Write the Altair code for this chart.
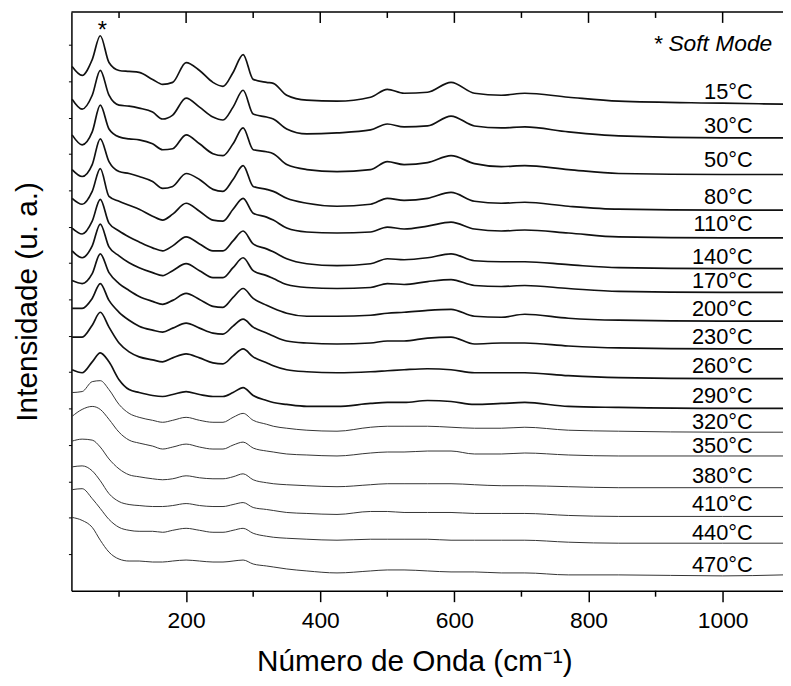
import altair as alt
import pandas as pd

# Raman shift sample positions (cm^-1)
wavenumber = [30, 45, 60, 72, 85, 100, 115, 130, 150, 165, 180, 200, 220, 240, 255, 270, 285,
              300, 320, 330, 350, 380, 425, 475, 500, 525, 560, 595, 630, 670, 705, 770, 845, 1000, 1090]

temperatures = ["15", "30", "50", "80", "110", "140", "170", "200", "230", "260", "290",
                "320", "350", "380", "410", "440", "470"]

# stacked spectra: vertical position measured downward from the top of the frame (a.u.)
s15 = [64, 73, 57, 33, 60, 68, 69, 70, 77, 82, 80, 60, 68, 80, 84, 70, 52, 77, 80, 81, 93, 98, 99, 95, 87, 91, 90, 80, 91, 93, 91, 95, 99, 101, 102]
s30 = [97, 107, 93, 68, 93, 103, 104, 106, 110, 117, 113, 96, 105, 115, 118, 105, 88, 112, 115, 117, 127, 132, 131, 128, 122, 125, 124, 114, 124, 126, 125, 130, 134, 136, 136]
s50 = [133, 143, 130, 103, 127, 135, 137, 138, 142, 148, 147, 133, 142, 152, 154, 142, 126, 148, 150, 152, 163, 168, 170, 168, 160, 163, 161, 154, 162, 165, 164, 168, 172, 173, 173]
s80 = [168, 175, 163, 137, 160, 170, 172, 175, 180, 187, 185, 172, 178, 188, 190, 178, 164, 185, 188, 190, 197, 202, 205, 203, 197, 199, 197, 191, 200, 202, 201, 205, 208, 209, 209]
s110 = [197, 203, 190, 167, 195, 200, 204, 208, 215, 219, 213, 202, 210, 219, 220, 208, 197, 212, 216, 219, 227, 231, 232, 231, 226, 228, 225, 221, 228, 230, 229, 232, 236, 237, 237]
s140 = [227, 233, 220, 198, 222, 230, 236, 241, 247, 250, 245, 236, 243, 250, 250, 240, 230, 243, 248, 251, 258, 263, 265, 263, 258, 259, 257, 253, 260, 261, 261, 264, 267, 268, 268]
s170 = [250, 257, 245, 223, 246, 255, 262, 267, 272, 275, 270, 263, 270, 277, 277, 267, 257, 270, 275, 278, 284, 287, 288, 287, 283, 284, 281, 279, 285, 286, 285, 288, 291, 292, 292]
s200 = [280, 283, 273, 253, 272, 283, 290, 296, 301, 304, 300, 293, 299, 306, 307, 297, 288, 298, 305, 308, 313, 316, 316, 315, 313, 312, 310, 309, 316, 317, 314, 318, 320, 321, 321]
s230 = [308, 308, 298, 283, 300, 312, 320, 326, 330, 332, 328, 323, 328, 333, 334, 326, 319, 327, 333, 336, 341, 343, 344, 343, 341, 341, 338, 337, 344, 343, 343, 346, 348, 349, 349]
s260 = [337, 337, 325, 312, 327, 343, 352, 357, 360, 362, 358, 354, 358, 363, 364, 356, 349, 357, 363, 366, 370, 372, 373, 372, 371, 370, 369, 370, 373, 373, 373, 376, 378, 379, 379]
s290 = [370, 373, 362, 353, 362, 380, 390, 393, 396, 397, 395, 392, 395, 397, 397, 393, 388, 396, 401, 403, 405, 407, 407, 404, 403, 403, 401, 402, 405, 404, 403, 407, 408, 409, 409]
s320 = [393, 392, 382, 381, 390, 405, 414, 418, 421, 423, 421, 418, 421, 423, 423, 418, 414, 421, 425, 427, 429, 431, 432, 428, 427, 427, 427, 428, 429, 429, 428, 431, 432, 433, 433]
s350 = [417, 410, 407, 410, 420, 433, 441, 444, 447, 450, 448, 445, 448, 450, 450, 446, 443, 449, 452, 453, 455, 456, 457, 454, 453, 453, 452, 452, 455, 455, 454, 456, 457, 457, 457]
s380 = [442, 440, 441, 448, 460, 470, 476, 478, 480, 481, 480, 477, 479, 480, 480, 478, 475, 481, 484, 485, 486, 487, 488, 486, 485, 485, 485, 485, 486, 487, 487, 488, 489, 489, 489]
s410 = [468, 467, 472, 482, 495, 503, 506, 507, 508, 508, 507, 505, 507, 508, 508, 506, 504, 509, 511, 512, 514, 515, 516, 513, 513, 514, 514, 514, 515, 515, 515, 517, 518, 518, 518]
s440 = [491, 490, 500, 510, 521, 529, 532, 533, 533, 534, 532, 530, 532, 534, 534, 532, 530, 535, 538, 539, 540, 541, 542, 541, 541, 541, 541, 542, 542, 542, 542, 544, 545, 545, 545]
s470 = [519, 522, 529, 542, 554, 561, 563, 563, 564, 564, 563, 562, 563, 564, 564, 563, 562, 566, 568, 569, 571, 573, 575, 573, 572, 572, 573, 574, 574, 575, 575, 577, 577, 578, 577]

series = [s15, s30, s50, s80, s110, s140, s170, s200, s230, s260, s290,
          s320, s350, s380, s410, s440, s470]

# label baselines for each temperature tag
label_y = [97, 131, 165, 203, 230, 263, 288, 316, 344, 373, 404, 430, 454, 484, 513, 542, 574]
label_x = 1045

x_domain = [29, 1090]
y_domain = [9, 593]
major_ticks = [200, 400, 600, 800, 1000]
minor_ticks = [100, 300, 500, 700, 900]
y_ticks = [42, 79, 116, 152, 189, 226, 262, 299, 336, 372, 409, 446, 483, 519, 556]

rows = []
for i, (t, s) in enumerate(zip(temperatures, series)):
    grp = "thick" if i <= 10 else "thin"
    for w, v in zip(wavenumber, s):
        rows.append({"w": w, "v": v, "T": t, "order": i, "grp": grp})
df = pd.DataFrame(rows)

labels_df = pd.DataFrame({
    "txt": [t + "°C" for t in temperatures],
    "y": label_y,
    "x": [label_x] * len(temperatures),
})

xscale = alt.Scale(domain=x_domain, nice=False, zero=False)
yscale = alt.Scale(domain=y_domain, reverse=True, nice=False, zero=False)

lines = alt.Chart(df).mark_line(interpolate="monotone").encode(
    x=alt.X("w:Q", scale=xscale,
            axis=alt.Axis(values=major_ticks, format="d", tickSize=11, labelFontSize=23, labelPadding=8,
                          title="Número de Onda (cm⁻¹)", titleFontSize=30, titleFontWeight="normal",
                          titleX=346, titleY=80, titleBaseline="alphabetic",
                          grid=False, domainColor="black", tickColor="black",
                          labelColor="black", titleColor="black", domainWidth=1.5, tickWidth=1.5)),
    y=alt.Y("v:Q", scale=yscale,
            axis=alt.Axis(values=y_ticks, labels=False, tickSize=3, grid=False,
                          title="Intensidade (u. a.)", titleFontSize=30, titleFontWeight="normal",
                          titleX=-35, titleBaseline="alphabetic", titleColor="black",
                          domainColor="black", tickColor="black", domainWidth=1.5)),
    detail="T:N",
    color=alt.Color("grp:N", scale=alt.Scale(domain=["thick", "thin"], range=["#111111", "#333333"]), legend=None),
    strokeWidth=alt.StrokeWidth("grp:N", scale=alt.Scale(domain=["thick", "thin"], range=[1.7, 1.0]), legend=None),
)

labels = alt.Chart(labels_df).mark_text(align="right", baseline="alphabetic", fontSize=22, color="black").encode(
    x=alt.X("x:Q", scale=xscale), y=alt.Y("y:Q", scale=yscale), text="txt:N")

annot_df = pd.DataFrame({"x": [1074], "y": [48], "txt": ["* Soft Mode"]})
annot = alt.Chart(annot_df).mark_text(align="right", baseline="alphabetic", fontSize=23,
                                      fontStyle="italic", color="black").encode(
    x=alt.X("x:Q", scale=xscale), y=alt.Y("y:Q", scale=yscale), text="txt:N")

star_df = pd.DataFrame({"x": [75], "y": [35], "txt": ["*"]})
star = alt.Chart(star_df).mark_text(align="center", baseline="alphabetic", fontSize=24, color="black").encode(
    x=alt.X("x:Q", scale=xscale), y=alt.Y("y:Q", scale=yscale), text="txt:N")

frame_df = pd.DataFrame({"x": [x_domain[0]], "x2": [x_domain[1]]})
top_line = alt.Chart(frame_df).mark_rule(color="black", strokeWidth=1.5).encode(
    x=alt.X("x:Q", scale=xscale), x2="x2:Q", y=alt.value(0))

top_major = alt.Chart(pd.DataFrame({"t": major_ticks})).mark_rule(color="black", strokeWidth=1.5).encode(
    x=alt.X("t:Q", scale=xscale), y=alt.value(0), y2=alt.value(11))
top_minor = alt.Chart(pd.DataFrame({"t": minor_ticks})).mark_rule(color="black", strokeWidth=1.5).encode(
    x=alt.X("t:Q", scale=xscale), y=alt.value(0), y2=alt.value(6))
bot_minor = alt.Chart(pd.DataFrame({"t": minor_ticks})).mark_rule(color="black", strokeWidth=1.5).encode(
    x=alt.X("t:Q", scale=xscale), y=alt.value(584), y2=alt.value(590))

chart = alt.layer(lines, labels, annot, star, top_line, top_major, top_minor, bot_minor).properties(
    width=718, height=584,
    padding={"left": 64, "top": 1, "right": 0, "bottom": 85},
    autosize=alt.AutoSizeParams(type="none"),
).configure(font="Liberation Sans").configure_view(stroke=None)

chart.save("out.html", embed_options={"renderer": "svg", "actions": False})
